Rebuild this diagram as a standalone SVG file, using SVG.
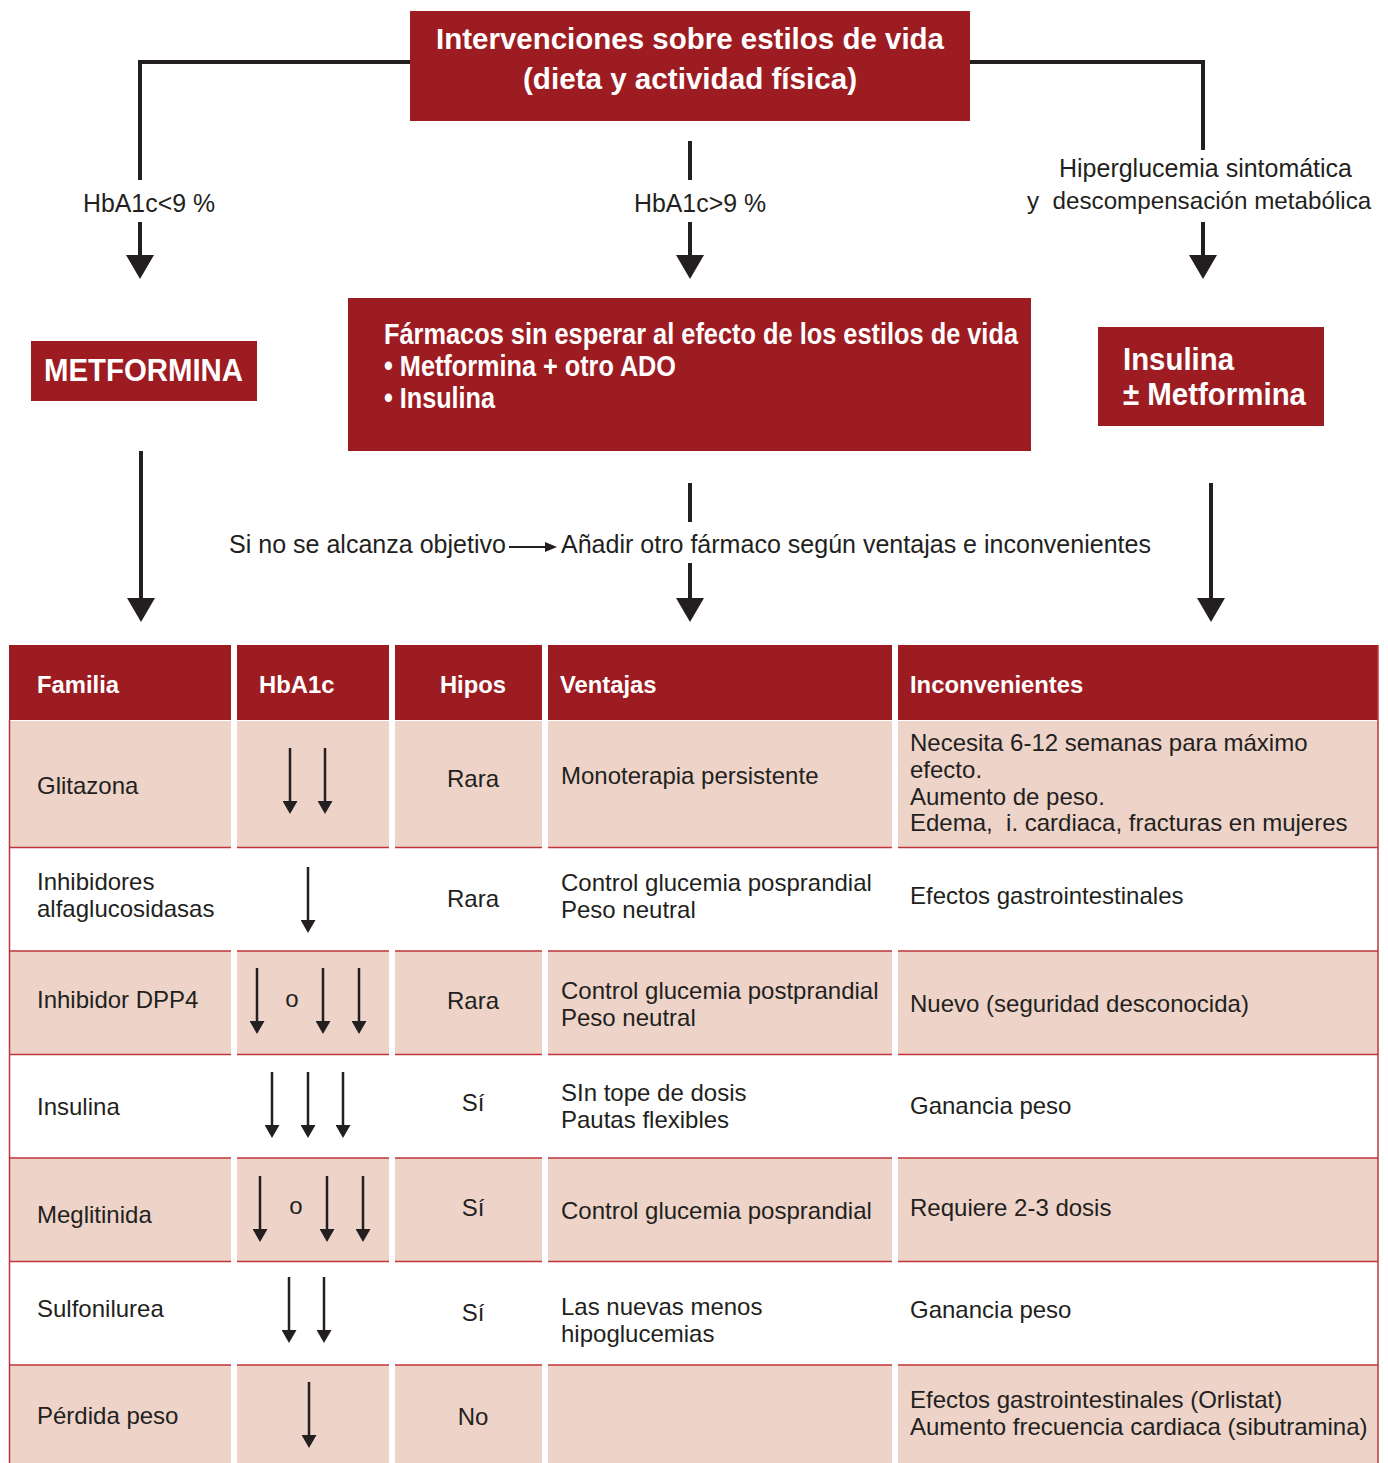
<svg xmlns="http://www.w3.org/2000/svg" width="1388" height="1463" viewBox="0 0 1388 1463">
<style>
.box{fill:#9d1c22}
.bt{fill:#fff;font-family:"Liberation Sans Narrow","Liberation Sans",Arial,sans-serif;font-weight:bold}
.lbl{fill:#231f20;font-family:"Liberation Sans",Arial,sans-serif;font-size:26px}
.conn{stroke:#231f20;stroke-width:4;fill:none}
.hd{fill:#9d1c22}
.pk{fill:#edd3c8}
.rl{stroke:#c0343a;stroke-width:1.5}
.ht{fill:#fff;font-family:"Liberation Sans",Arial,sans-serif;font-weight:bold;font-size:23.8px}
.tt{fill:#231f20;font-family:"Liberation Sans",Arial,sans-serif;font-size:24px}
.c{text-anchor:middle}
.sa{stroke:#231f20;stroke-width:2.5}
</style>
<defs>
<marker id="big" markerUnits="userSpaceOnUse" markerWidth="24" markerHeight="28" refX="0" refY="14" orient="auto"><path d="M0,0 L24,14 L0,28 z" fill="#231f20"/></marker>
<marker id="sm" markerUnits="userSpaceOnUse" markerWidth="13" markerHeight="15" refX="0" refY="7.5" orient="auto"><path d="M0,0 L13,7.5 L0,15 z" fill="#231f20"/></marker>
<marker id="tiny" markerUnits="userSpaceOnUse" markerWidth="12" markerHeight="10" refX="0" refY="5" orient="auto"><path d="M0,0 L12,5 L0,10 z" fill="#231f20"/></marker>
</defs>
<rect width="1388" height="1463" fill="#fff"/>

<g id="connectors">
<polyline class="conn" points="410,62 140,62 140,180"/>
<polyline class="conn" points="970,62 1203,62 1203,150"/>
<line class="conn" x1="690" y1="141" x2="690" y2="180"/>
<line class="conn" x1="140" y1="222" x2="140" y2="255" marker-end="url(#big)"/>
<line class="conn" x1="690" y1="222" x2="690" y2="255" marker-end="url(#big)"/>
<line class="conn" x1="1203" y1="222" x2="1203" y2="255" marker-end="url(#big)"/>
<line class="conn" x1="141" y1="451" x2="141" y2="598" marker-end="url(#big)"/>
<line class="conn" x1="690" y1="483" x2="690" y2="522"/>
<line class="conn" x1="690" y1="563" x2="690" y2="598" marker-end="url(#big)"/>
<line class="conn" x1="1211" y1="483" x2="1211" y2="598" marker-end="url(#big)"/>
<line stroke="#231f20" stroke-width="2" x1="509" y1="547" x2="545" y2="547" marker-end="url(#tiny)"/>
</g>

<g id="labels">
<text class="lbl" x="83" y="212" textLength="132" lengthAdjust="spacingAndGlyphs">HbA1c&lt;9 %</text>
<text class="lbl" x="634" y="212" textLength="132" lengthAdjust="spacingAndGlyphs">HbA1c&gt;9 %</text>
<text class="lbl" x="1059" y="177" textLength="293" lengthAdjust="spacingAndGlyphs">Hiperglucemia sintomática</text>
<text class="lbl" x="1027" y="209" style="font-size:24.2px" xml:space="preserve">y  descompensación metabólica</text>
<text class="lbl" x="229" y="553" textLength="277" lengthAdjust="spacingAndGlyphs">Si no se alcanza objetivo</text>
<text class="lbl" x="561" y="553" textLength="590" lengthAdjust="spacingAndGlyphs">Añadir otro fármaco según ventajas e inconvenientes</text>
</g>

<g id="node-intervenciones">
<rect class="box" x="410" y="11" width="560" height="110"/>
<text class="bt" font-size="30" x="436" y="49" textLength="508" lengthAdjust="spacingAndGlyphs">Intervenciones sobre estilos de vida</text>
<text class="bt" font-size="30" x="523" y="89" textLength="334" lengthAdjust="spacingAndGlyphs">(dieta y actividad física)</text>
</g>

<g id="node-metformina">
<rect class="box" x="31" y="341" width="226" height="60"/>
<text class="bt" font-size="31" x="44" y="381" textLength="199" lengthAdjust="spacingAndGlyphs">METFORMINA</text>
</g>

<g id="node-farmacos">
<rect class="box" x="348" y="298" width="683" height="153"/>
<text class="bt" font-size="29" x="384" y="344" textLength="634" lengthAdjust="spacingAndGlyphs">Fármacos sin esperar al efecto de los estilos de vida</text>
<text class="bt" font-size="29" x="384" y="376" textLength="292" lengthAdjust="spacingAndGlyphs">• Metformina + otro ADO</text>
<text class="bt" font-size="29" x="384" y="408" textLength="111" lengthAdjust="spacingAndGlyphs">• Insulina</text>
</g>

<g id="node-insulina">
<rect class="box" x="1098" y="327" width="226" height="99"/>
<text class="bt" font-size="31" x="1123" y="370" textLength="111" lengthAdjust="spacingAndGlyphs">Insulina</text>
<text class="bt" font-size="31" x="1123" y="405" textLength="183" lengthAdjust="spacingAndGlyphs">± Metformina</text>
</g>

<g id="table">
<g id="table-header">
<rect class="hd" x="9" y="645" width="222" height="75"/>
<rect class="hd" x="237" y="645" width="152" height="75"/>
<rect class="hd" x="395" y="645" width="147" height="75"/>
<rect class="hd" x="548" y="645" width="344" height="75"/>
<rect class="hd" x="898" y="645" width="480" height="75"/>
<text class="ht" x="37" y="693">Familia</text>
<text class="ht" x="259" y="693">HbA1c</text>
<text class="ht c" x="473" y="693">Hipos</text>
<text class="ht" x="560" y="693">Ventajas</text>
<text class="ht" x="910" y="693">Inconvenientes</text>
</g>
<g id="table-bg">
<rect class="pk" x="9" y="721" width="222" height="126"/><rect class="pk" x="237" y="721" width="152" height="126"/><rect class="pk" x="395" y="721" width="147" height="126"/><rect class="pk" x="548" y="721" width="344" height="126"/><rect class="pk" x="898" y="721" width="480" height="126"/>
<rect class="pk" x="9" y="951" width="222" height="103"/><rect class="pk" x="237" y="951" width="152" height="103"/><rect class="pk" x="395" y="951" width="147" height="103"/><rect class="pk" x="548" y="951" width="344" height="103"/><rect class="pk" x="898" y="951" width="480" height="103"/>
<rect class="pk" x="9" y="1158" width="222" height="103"/><rect class="pk" x="237" y="1158" width="152" height="103"/><rect class="pk" x="395" y="1158" width="147" height="103"/><rect class="pk" x="548" y="1158" width="344" height="103"/><rect class="pk" x="898" y="1158" width="480" height="103"/>
<rect class="pk" x="9" y="1365" width="222" height="98"/><rect class="pk" x="237" y="1365" width="152" height="98"/><rect class="pk" x="395" y="1365" width="147" height="98"/><rect class="pk" x="548" y="1365" width="344" height="98"/><rect class="pk" x="898" y="1365" width="480" height="98"/>
</g>
<g id="table-lines">
<path class="rl" d="M9,847.5H231M237,847.5H389M395,847.5H542M548,847.5H892M898,847.5H1378
M9,951H231M237,951H389M395,951H542M548,951H892M898,951H1378
M9,1054.5H231M237,1054.5H389M395,1054.5H542M548,1054.5H892M898,1054.5H1378
M9,1158H231M237,1158H389M395,1158H542M548,1158H892M898,1158H1378
M9,1261.5H231M237,1261.5H389M395,1261.5H542M548,1261.5H892M898,1261.5H1378
M9,1365H231M237,1365H389M395,1365H542M548,1365H892M898,1365H1378
M9.5,720V1463M1378,645V1463"/>
</g>

<g id="row-glitazona">
<text class="tt" x="37" y="794">Glitazona</text>
<line class="sa" x1="290" y1="748" x2="290" y2="801" marker-end="url(#sm)"/>
<line class="sa" x1="325" y1="748" x2="325" y2="801" marker-end="url(#sm)"/>
<text class="tt c" x="473" y="787">Rara</text>
<text class="tt" x="561" y="784">Monoterapia persistente</text>
<text class="tt" x="910" y="751">Necesita 6-12 semanas para máximo</text>
<text class="tt" x="910" y="778">efecto.</text>
<text class="tt" x="910" y="805">Aumento de peso.</text>
<text class="tt" x="910" y="831" xml:space="preserve">Edema,  i. cardiaca, fracturas en mujeres</text>
</g>

<g id="row-alfaglucosidasas">
<text class="tt" x="37" y="890">Inhibidores</text>
<text class="tt" x="37" y="917">alfaglucosidasas</text>
<line class="sa" x1="308" y1="867" x2="308" y2="920" marker-end="url(#sm)"/>
<text class="tt c" x="473" y="907">Rara</text>
<text class="tt" x="561" y="891">Control glucemia posprandial</text>
<text class="tt" x="561" y="918">Peso neutral</text>
<text class="tt" x="910" y="904">Efectos gastrointestinales</text>
</g>

<g id="row-dpp4">
<text class="tt" x="37" y="1008">Inhibidor DPP4</text>
<line class="sa" x1="257" y1="968" x2="257" y2="1021" marker-end="url(#sm)"/>
<text class="tt c" x="292" y="1007">o</text>
<line class="sa" x1="323" y1="968" x2="323" y2="1021" marker-end="url(#sm)"/>
<line class="sa" x1="359" y1="968" x2="359" y2="1021" marker-end="url(#sm)"/>
<text class="tt c" x="473" y="1009">Rara</text>
<text class="tt" x="561" y="999">Control glucemia postprandial</text>
<text class="tt" x="561" y="1026">Peso neutral</text>
<text class="tt" x="910" y="1012">Nuevo (seguridad desconocida)</text>
</g>

<g id="row-insulina">
<text class="tt" x="37" y="1115">Insulina</text>
<line class="sa" x1="272" y1="1072" x2="272" y2="1125" marker-end="url(#sm)"/>
<line class="sa" x1="308" y1="1072" x2="308" y2="1125" marker-end="url(#sm)"/>
<line class="sa" x1="343" y1="1072" x2="343" y2="1125" marker-end="url(#sm)"/>
<text class="tt c" x="473" y="1111">Sí</text>
<text class="tt" x="561" y="1101">SIn tope de dosis</text>
<text class="tt" x="561" y="1128">Pautas flexibles</text>
<text class="tt" x="910" y="1114">Ganancia peso</text>
</g>

<g id="row-meglitinida">
<text class="tt" x="37" y="1223">Meglitinida</text>
<line class="sa" x1="260" y1="1176" x2="260" y2="1229" marker-end="url(#sm)"/>
<text class="tt c" x="296" y="1214">o</text>
<line class="sa" x1="327" y1="1176" x2="327" y2="1229" marker-end="url(#sm)"/>
<line class="sa" x1="363" y1="1176" x2="363" y2="1229" marker-end="url(#sm)"/>
<text class="tt c" x="473" y="1216">Sí</text>
<text class="tt" x="561" y="1219">Control glucemia posprandial</text>
<text class="tt" x="910" y="1216">Requiere 2-3 dosis</text>
</g>

<g id="row-sulfonilurea">
<text class="tt" x="37" y="1317">Sulfonilurea</text>
<line class="sa" x1="289" y1="1277" x2="289" y2="1330" marker-end="url(#sm)"/>
<line class="sa" x1="324" y1="1277" x2="324" y2="1330" marker-end="url(#sm)"/>
<text class="tt c" x="473" y="1321">Sí</text>
<text class="tt" x="561" y="1315">Las nuevas menos</text>
<text class="tt" x="561" y="1342">hipoglucemias</text>
<text class="tt" x="910" y="1318">Ganancia peso</text>
</g>

<g id="row-perdida-peso">
<text class="tt" x="37" y="1424">Pérdida peso</text>
<line class="sa" x1="309" y1="1382" x2="309" y2="1435" marker-end="url(#sm)"/>
<text class="tt c" x="473" y="1425">No</text>
<text class="tt" x="910" y="1408">Efectos gastrointestinales (Orlistat)</text>
<text class="tt" x="910" y="1435">Aumento frecuencia cardiaca (sibutramina)</text>
</g>
</g>
</svg>
